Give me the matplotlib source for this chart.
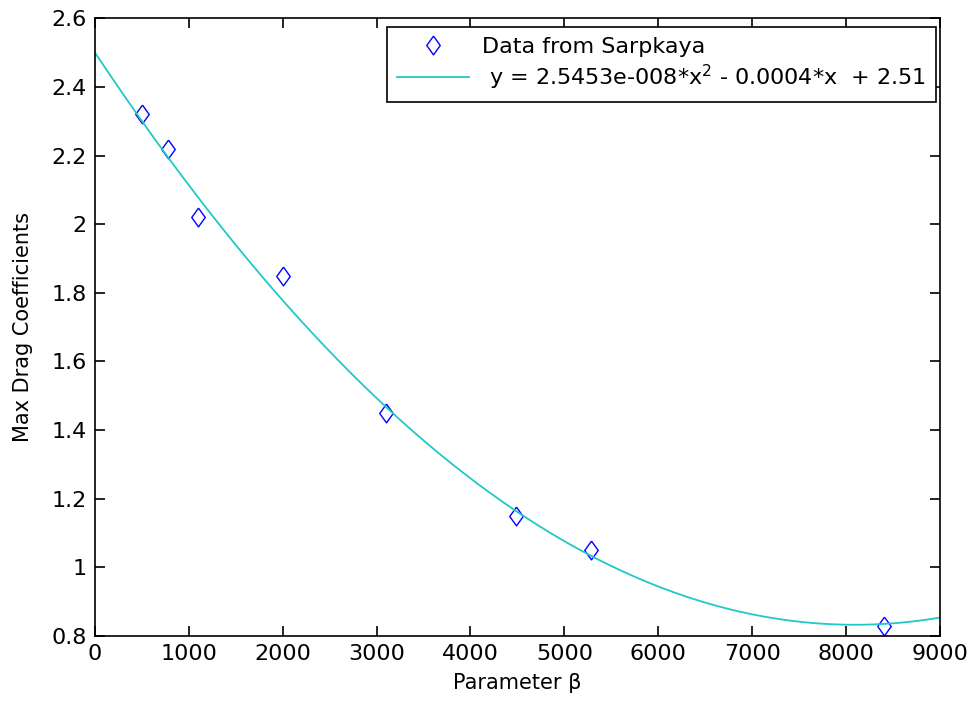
import numpy as np
import matplotlib
matplotlib.use("Agg")
import matplotlib.pyplot as plt

# data points
beta = [500, 780, 1100, 2000, 3100, 4480, 5280, 8400]
cd_max = [2.32, 2.22, 2.02, 1.85, 1.45, 1.15, 1.05, 0.83]

# quadratic fit coefficients (a*x^2 + b*x + c)
fit_coef = [2.5453e-8, -4.12e-4, 2.50]
fit_label = r" y = 2.5453e-008*x$^2$ - 0.0004*x  + 2.51"

xticks = [0, 1000, 2000, 3000, 4000, 5000, 6000, 7000, 8000, 9000]
yticks = [0.8, 1.0, 1.2, 1.4, 1.6, 1.8, 2.0, 2.2, 2.4, 2.6]
ytick_labels = ["0.8", "1", "1.2", "1.4", "1.6", "1.8", "2", "2.2", "2.4", "2.6"]

plt.rcParams['font.family'] = ['DejaVu Sans']
plt.rcParams['mathtext.fontset'] = 'dejavusans'

# matlab-like diamond, a bit taller than wide
diamond = [(0, 1), (0.72, 0), (0, -1), (-0.72, 0), (0, 1)]

fig = plt.figure(figsize=(9.74, 7.02), dpi=100)
ax = fig.add_axes([0.0975, 0.094, 0.8675, 0.88])

ax.plot(beta, cd_max, linestyle='none', marker=diamond, color='blue', mfc='none',
        mew=1.0, markersize=13.5, label="Data from Sarpkaya")
xs = np.linspace(0, 9000, 400)
ax.plot(xs, np.polyval(fit_coef, xs), color='#22C8C8', lw=1.3, label=fit_label)

ax.set_xlim(0, 9000)
ax.set_ylim(0.8, 2.6)
ax.set_xticks(xticks)
ax.set_yticks(yticks)
ax.set_yticklabels(ytick_labels)
ax.tick_params(direction='in', top=True, right=True, length=7, width=1.2,
               labelsize=16, pad=6)
for s in ax.spines.values():
    s.set_linewidth(1.2)

ax.set_xlabel("Parameter β", fontsize=15, labelpad=6)
ax.set_ylabel("Max Drag Coefficients", fontsize=15, labelpad=13)

leg = ax.legend(loc='upper right', bbox_to_anchor=(0.995, 0.986), fontsize=16,
                fancybox=False, edgecolor='black', framealpha=1,
                handlelength=3.2, handletextpad=0.6, borderpad=0.45,
                labelspacing=0.25, borderaxespad=0)
leg.get_frame().set_linewidth(1.2)

fig.savefig("out.png", dpi=100)
